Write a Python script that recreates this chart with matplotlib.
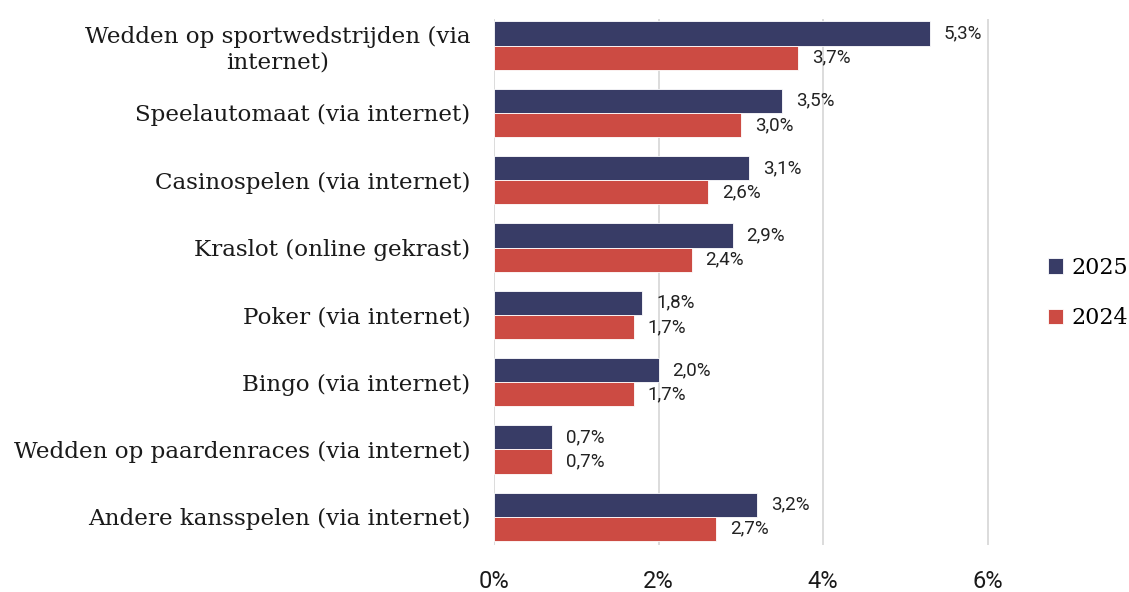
import numpy as np
import matplotlib.pyplot as plt
from matplotlib.ticker import FuncFormatter

categories = ["Wedden op sportwedstrijden (via\ninternet)",
              "Speelautomaat (via internet)",
              "Casinospelen (via internet)",
              "Kraslot (online gekrast)",
              "Poker (via internet)",
              "Bingo (via internet)",
              "Wedden op paardenraces (via internet)",
              "Andere kansspelen (via internet)"]
vals_2025 = [5.3, 3.5, 3.1, 2.9, 1.8, 2.0, 0.7, 3.2]
vals_2024 = [3.7, 3.0, 2.6, 2.4, 1.7, 1.7, 0.7, 2.7]
series_labels = ["2025", "2024"]

navy = "#383c66"
red = "#cc4b43"
serif = ["DejaVu Serif"]
narrow = ["Liberation Sans Narrow", "Roboto", "DejaVu Sans"]

fig = plt.figure(figsize=(11.29, 5.92), dpi=100)
ax = fig.add_axes([0.4376, 0.0794, 0.481, 0.889])

y = np.arange(len(categories))
h = 0.36
b1 = ax.barh(y - h / 2, vals_2025, height=h, color=navy, edgecolor="white", linewidth=0.6, label=series_labels[0], zorder=3)
b2 = ax.barh(y + h / 2, vals_2024, height=h, color=red, edgecolor="white", linewidth=0.6, label=series_labels[1], zorder=3)

fmt = lambda v: f"{v:.1f}%".replace(".", ",")
for bars, vals in ((b1, vals_2025), (b2, vals_2024)):
    ax.bar_label(bars, labels=[fmt(v) for v in vals], padding=10,
                 fontsize=13.5, family=narrow, color="#222222")

ax.set_xlim(0, 6.6)
ax.set_ylim(len(categories) - 0.58, -0.4)
ax.set_xticks([0, 2, 4, 6])
ax.xaxis.set_major_formatter(FuncFormatter(lambda v, p: f"{v:.0f}%"))
ax.set_yticks(y)
ax.set_yticklabels(categories)
for t in ax.get_yticklabels():
    t.set_fontfamily(serif)
    t.set_fontsize(16.6)
    t.set_multialignment("center")
    t.set_color("#1a1a1a")
for t in ax.get_xticklabels():
    t.set_fontfamily(narrow)
    t.set_fontsize(17)
    t.set_color("#1a1a1a")

ax.tick_params(axis="both", length=0)
ax.tick_params(axis="y", pad=17)
ax.tick_params(axis="x", pad=18)
ax.grid(axis="x", color="#d9d9d9", linewidth=1.3, zorder=0)
for s in ax.spines.values():
    s.set_visible(False)

leg = fig.legend(handles=[b1, b2], loc="center left", bbox_to_anchor=(0.928, 0.505),
                 frameon=False, prop={"family": serif, "size": 16},
                 borderpad=0, borderaxespad=0,
                 handlelength=0.7, handleheight=0.7, handletextpad=0.35, labelspacing=1.3)

fig.savefig("out.png", dpi=100)
